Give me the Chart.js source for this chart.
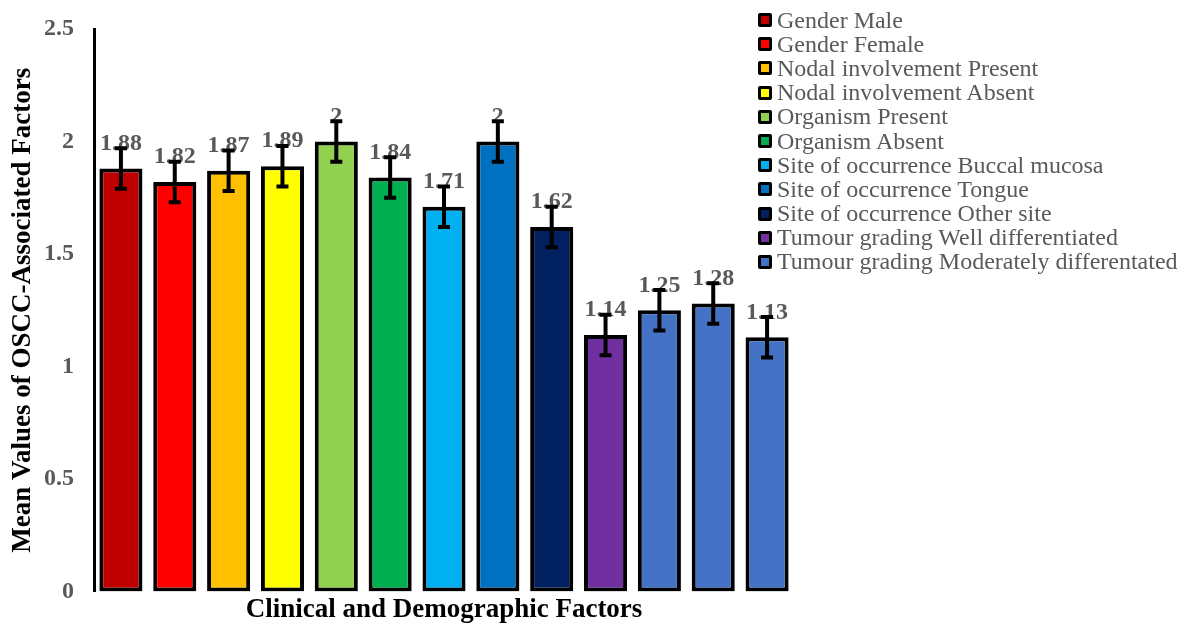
<!doctype html>
<html lang="en">
  <head>
    <meta charset="utf-8">
    <title>Mean Values of OSCC-Associated Factors</title>
    <script src="https://cdn.jsdelivr.net/npm/chart.js@4.4.0/dist/chart.umd.min.js"></script>
    <style>
      body { margin: 0; background: #fff; }
      #wrap { position: relative; width: 1188px; height: 626px; }
      #legend { position: absolute; left: 758px; top: 8px; font-family: "Liberation Serif", "Times New Roman", serif; font-size: 24px; color: #595959; }
      .item { display: flex; align-items: center; height: 24.2px; white-space: nowrap; }
      .box { width: 8px; height: 8px; border: 3px solid #000; border-radius: 2px; margin-right: 5px; }
    </style>
  </head>
  <body>
<div id="wrap">
  <canvas id="barChart"></canvas>
  <div id="legend"></div>
</div>

<script>
// bars
var categories = [
  "Gender Male", "Gender Female", "Nodal involvement Present", "Nodal involvement Absent",
  "Organism Present", "Organism Absent", "Site of occurrence Buccal mucosa",
  "Site of occurrence Tongue", "Site of occurrence Other site",
  "Tumour grading Well differentiated", "Tumour grading Moderately differentated",
  "Tumour grading (12)", "Tumour grading (13)"
];
var means = [1.88, 1.82, 1.87, 1.89, 2, 1.84, 1.71, 2, 1.62, 1.14, 1.25, 1.28, 1.13];
var errors = [0.09, 0.09, 0.09, 0.09, 0.09, 0.09, 0.09, 0.09, 0.09, 0.09, 0.09, 0.09, 0.09];
var barColors = ["#C00000", "#FF0000", "#FFC000", "#FFFF00", "#92D050", "#00B050", "#00B0F0",
                 "#0070C0", "#002060", "#7030A0", "#4472C4", "#4472C4", "#4472C4"];

// legend (only 11 entries in the original)
var legendLabels = categories.slice(0, 11);
var legendColors = barColors.slice(0, 11);

var serif = '"Liberation Serif", "Times New Roman", serif';

// labels + error bars drawn on top of the bars
var errorBarPlugin = {
  id: "errorBars",
  afterDatasetsDraw: function(chart) {
    var ctx = chart.ctx;
    var y = chart.scales.y;
    var meta = chart.getDatasetMeta(0);
    ctx.save();
    // value labels
    ctx.font = "bold 24px " + serif;
    ctx.fillStyle = "#595959";
    ctx.textAlign = "center";
    ctx.textBaseline = "middle";
    meta.data.forEach(function(bar, i) {
      ctx.fillText(String(means[i]), bar.x, bar.y - 25);
    });
    // error bars
    ctx.strokeStyle = "#000";
    ctx.lineWidth = 4;
    meta.data.forEach(function(bar, i) {
      var top = y.getPixelForValue(means[i] + errors[i]);
      var bot = y.getPixelForValue(means[i] - errors[i]);
      ctx.beginPath();
      ctx.moveTo(bar.x, top); ctx.lineTo(bar.x, bot);
      ctx.moveTo(bar.x - 6, top); ctx.lineTo(bar.x + 6, top);
      ctx.moveTo(bar.x - 6, bot); ctx.lineTo(bar.x + 6, bot);
      ctx.stroke();
    });
    ctx.restore();
  }
};

var ctxB = document.getElementById("barChart").getContext("2d");
var myBarChart = new Chart(ctxB, {
  type: "bar",
  data: {
    labels: categories,
    datasets: [{
      label: "Mean",
      data: means,
      backgroundColor: barColors,
      borderColor: "#000",
      borderWidth: 4,
      borderSkipped: false,
      categoryPercentage: 1,
      barPercentage: 0.8
    }]
  },
  options: {
    responsive: true,
    maintainAspectRatio: false,
    animation: false,
    layout: { padding: { left: 0, right: 394, top: 29, bottom: 0 } },
    plugins: {
      legend: { display: false },
      tooltip: { enabled: false }
    },
    scales: {
      x: {
        grid: { display: false, drawTicks: false },
        border: { display: false },
        ticks: { display: false },
        title: {
          display: true,
          text: "Clinical and Demographic Factors",
          color: "#000",
          font: { family: serif, size: 27, weight: "bold" },
          padding: { top: 2, bottom: 0 }
        }
      },
      y: {
        min: 0,
        max: 2.5,
        afterFit: function(scale) {
          scale.width = 94;
          scale.paddingTop = 0;
          scale.paddingBottom = 0;
        },
        grid: { display: false, drawTicks: false },
        border: { display: true, color: "#000", width: 3 },
        ticks: {
          stepSize: 0.5,
          padding: 20,
          color: "#595959",
          font: { family: serif, size: 24, weight: "bold" },
          callback: function(v) { return String(v); }
        },
        title: {
          display: true,
          text: "Mean Values of OSCC-Associated Factors",
          color: "#000",
          font: { family: serif, size: 27, weight: "bold" },
          padding: { top: 7, bottom: 0 }
        }
      }
    }
  },
  plugins: [errorBarPlugin]
});

// html legend
var legendDiv = document.getElementById("legend");
legendLabels.forEach(function(text, i) {
  var row = document.createElement("div");
  row.className = "item";
  var box = document.createElement("span");
  box.className = "box";
  box.style.background = legendColors[i];
  var label = document.createElement("span");
  label.textContent = text;
  row.appendChild(box);
  row.appendChild(label);
  legendDiv.appendChild(row);
});
</script>
  </body>
</html>
